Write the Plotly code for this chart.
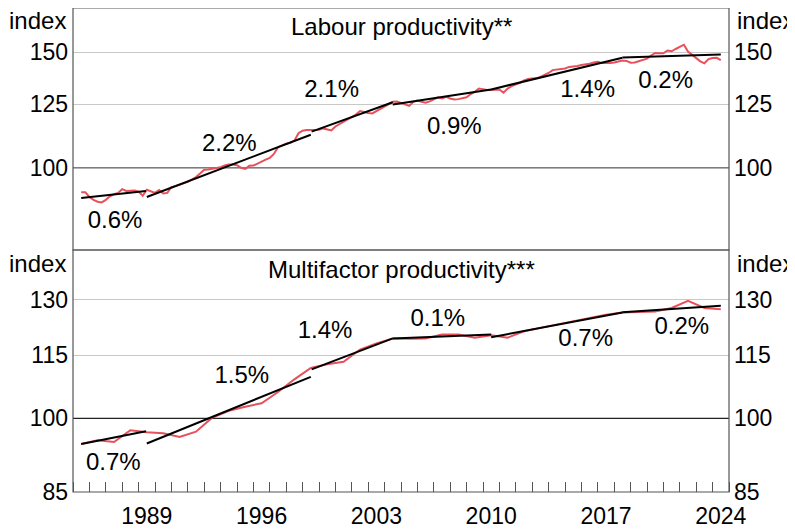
import math
import plotly.graph_objects as go

# ---------------- data ----------------
# Labour productivity** (quarterly index), first observation mid-1985
lp_first = 1985.5
lp_values = [
    91.8, 91.8, 90.3, 89.4, 88.8, 88.6, 89.4, 90.5, 91.2, 91.6,
    92.8, 92.2, 92.3, 92.4, 92.0, 90.7, 92.6, 92.2, 91.6, 92.5,
    91.4, 91.6, 93.5, 93.8, 94.2, 94.7, 95.2, 96.0, 96.8, 98.0,
    99.3, 99.4, 99.6, 99.8, 100.2, 100.8, 101.2, 101.2, 100.9, 100.0,
    99.6, 100.7, 100.8, 101.5, 102.3, 102.9, 103.5, 105.0, 107.5, 108.3,
    108.8, 109.2, 110.0, 112.9, 113.9, 114.2, 114.2, 114.0, 114.3, 114.8,
    114.5, 114.0, 115.6, 116.5, 117.6, 118.5, 119.3, 120.5, 122.0, 121.5,
    121.2, 121.0, 122.0, 123.0, 124.2, 125.3, 126.0, 126.1, 125.5,
    124.8, 124.2, 126.0, 126.6, 126.0, 125.6, 126.2, 127.0, 128.0, 127.5,
    128.2, 127.5, 127.0, 127.2, 127.5, 128.0, 129.5, 130.5, 132.0, 131.6,
    131.3, 131.3, 131.5, 131.6, 130.1, 132.0, 133.1, 133.8, 134.6, 135.8,
    136.5, 136.7, 136.8, 137.5, 138.4, 139.4, 140.8, 141.0, 141.2, 141.6,
    142.4, 142.5, 142.8, 143.3, 143.5, 144.0, 144.6, 145.0, 144.3, 144.2,
    144.4, 144.6, 145.3, 145.6, 145.4, 144.5, 144.6, 145.3, 145.6, 146.6,
    148.2, 149.5, 149.4, 149.3, 150.8, 150.4, 151.6, 152.6, 153.9, 150.3,
    148.6, 147.2, 145.2, 144.2, 146.3, 146.9, 147.0, 145.8,
]
lp_dates = [lp_first + 0.25 * i for i in range(len(lp_values))]

# Labour productivity trend segments: start year, end year, start value, end value, label
lp_seg_start = [1985.5, 1989.5, 1999.55, 2004.5, 2010.5, 2018.5]
lp_seg_end = [1989.45, 1999.5, 2004.5, 2010.5, 2018.5, 2024.5]
lp_seg_v0 = [90.0, 90.3, 113.5, 124.8, 131.6, 147.1]
lp_seg_v1 = [92.2, 112.3, 125.8, 131.6, 147.0, 148.7]
lp_labels = ["0.6%", "2.2%", "2.1%", "0.9%", "1.4%", "0.2%"]
lp_label_x = [1987.56, 1994.53, 2000.77, 2008.25, 2016.38, 2021.14]
lp_label_y = [82.6, 108.3, 130.9, 114.8, 130.9, 135.1]

# Multifactor productivity*** (annual index)
mfp_years = [1985.5 + i for i in range(40)]
mfp_values = [
    94.5, 95.3, 94.9, 97.4, 97.0, 96.75, 96.0, 97.1, 100.2, 101.7,
    102.6, 103.4, 106.0, 109.0, 111.8, 112.7, 113.3, 116.4, 118.0, 119.3,
    119.2, 119.3, 120.3, 120.3, 119.5, 120.1, 119.5, 121.2, 122.1, 123.0,
    123.9, 124.8, 125.7, 126.3, 126.4, 126.6, 127.6, 129.6, 127.6, 127.2,
]
mfp_seg_start = [1985.5, 1989.5, 1999.55, 2004.5, 2010.5, 2018.5]
mfp_seg_end = [1989.45, 1999.5, 2004.5, 2010.5, 2018.5, 2024.5]
mfp_seg_v0 = [94.5, 94.6, 111.4, 119.3, 119.6, 126.4]
mfp_seg_v1 = [97.2, 109.6, 119.3, 120.3, 126.3, 128.2]
mfp_labels = ["0.7%", "1.5%", "1.4%", "0.1%", "0.7%", "0.2%"]
mfp_label_x = [1987.46, 1995.29, 2000.37, 2007.24, 2016.26, 2022.12]
mfp_label_y = [90.4, 109.6, 121.0, 124.2, 118.8, 122.2]

x_tick_years = [1989, 1996, 2003, 2010, 2017, 2024]
lp_ticks = [100, 125, 150]
mfp_ticks = [85, 100, 115, 130]
lp_range = [75, 175]
mfp_range = [85, 145]
x_range = [1985, 2025]

# ---------------- style ----------------
FONT = "Liberation Sans, Arial, sans-serif"
FS_TICK = 23
FS_TEXT = 24
RED = "#E8505B"
FRAME = "#555555"
GRID = "#c8c8c8"


def seg_xy(s, e, v0, v1):
    xs, ys = [], []
    for a, b, c, d in zip(s, e, v0, v1):
        xs += [a, b, None]
        ys += [c, d, None]
    return xs, ys


fig = go.Figure()

# reference lines at 100
fig.add_trace(go.Scatter(x=x_range, y=[100, 100], mode="lines",
                         line=dict(color="#666666", width=1.2),
                         xaxis="x2", yaxis="y", hoverinfo="skip", showlegend=False))
fig.add_trace(go.Scatter(x=x_range, y=[100, 100], mode="lines",
                         line=dict(color="#222222", width=1.2),
                         xaxis="x", yaxis="y2", hoverinfo="skip", showlegend=False))

# top panel
fig.add_trace(go.Scatter(x=lp_dates, y=lp_values, mode="lines",
                         line=dict(color=RED, width=2),
                         xaxis="x2", yaxis="y", showlegend=False))
sx, sy = seg_xy(lp_seg_start, lp_seg_end, lp_seg_v0, lp_seg_v1)
fig.add_trace(go.Scatter(x=sx, y=sy, mode="lines", line=dict(color="black", width=2),
                         xaxis="x2", yaxis="y", showlegend=False, connectgaps=False))
fig.add_trace(go.Scatter(x=lp_label_x, y=lp_label_y, mode="text", text=lp_labels,
                         textfont=dict(family=FONT, size=FS_TEXT, color="black"),
                         textposition="middle center",
                         xaxis="x2", yaxis="y", showlegend=False, hoverinfo="skip"))

# bottom panel
fig.add_trace(go.Scatter(x=mfp_years, y=mfp_values, mode="lines",
                         line=dict(color=RED, width=2),
                         xaxis="x", yaxis="y2", showlegend=False))
sx, sy = seg_xy(mfp_seg_start, mfp_seg_end, mfp_seg_v0, mfp_seg_v1)
fig.add_trace(go.Scatter(x=sx, y=sy, mode="lines", line=dict(color="black", width=2),
                         xaxis="x", yaxis="y2", showlegend=False, connectgaps=False))
fig.add_trace(go.Scatter(x=mfp_label_x, y=mfp_label_y, mode="text", text=mfp_labels,
                         textfont=dict(family=FONT, size=FS_TEXT, color="black"),
                         textposition="middle center",
                         xaxis="x", yaxis="y2", showlegend=False, hoverinfo="skip"))

# invisible traces so the right-hand axes render
fig.add_trace(go.Scatter(x=[x_range[0]], y=[100], mode="markers", marker=dict(opacity=0),
                         xaxis="x2", yaxis="y3", showlegend=False, hoverinfo="skip"))
fig.add_trace(go.Scatter(x=[x_range[0]], y=[100], mode="markers", marker=dict(opacity=0),
                         xaxis="x", yaxis="y4", showlegend=False, hoverinfo="skip"))

lr = [math.log10(v) for v in lp_range]
mr = [math.log10(v) for v in mfp_range]
tickfont = dict(family=FONT, size=FS_TICK, color="black")

# the page body adds an 8px offset, so the figure is 8px smaller and the margins shifted
fig.update_layout(
    width=787, height=523, autosize=False,
    margin=dict(l=65, r=66, t=0, b=39),
    paper_bgcolor="white", plot_bgcolor="white",
    font=dict(family=FONT, size=FS_TEXT, color="black"),
    xaxis=dict(domain=[0, 1], anchor="y2", range=x_range,
               tickmode="array", tickvals=[y + 0.5 for y in x_tick_years],
               ticktext=[str(y) for y in x_tick_years], ticks="",
               tickfont=tickfont, showgrid=False, zeroline=False, showline=False,
               ticklabelstandoff=8,
               minor=dict(tickmode="array", tickvals=list(range(x_range[0], x_range[1] + 1)),
                          ticks="inside", ticklen=10, tickcolor=FRAME, tickwidth=1,
                          showgrid=False)),
    xaxis2=dict(domain=[0, 1], anchor="y", range=x_range, matches="x",
                showticklabels=False, ticks="", showgrid=False, zeroline=False, showline=False),
    yaxis=dict(domain=[0.5, 1], anchor="x2", type="log", range=lr,
               tickmode="array", tickvals=lp_ticks, ticktext=[str(v) for v in lp_ticks],
               ticks="", tickfont=tickfont, showgrid=True, gridcolor=GRID, gridwidth=1,
               zeroline=False, showline=False, ticklabelstandoff=4),
    yaxis2=dict(domain=[0, 0.5], anchor="x", type="log", range=mr,
                tickmode="array", tickvals=mfp_ticks, ticktext=[str(v) for v in mfp_ticks],
                ticks="", tickfont=tickfont, showgrid=True, gridcolor=GRID, gridwidth=1,
                zeroline=False, showline=False, ticklabelstandoff=4),
    yaxis3=dict(overlaying="y", anchor="x2", side="right", type="log", range=lr,
                tickmode="array", tickvals=lp_ticks, ticktext=[str(v) for v in lp_ticks],
                ticks="", tickfont=tickfont, showgrid=False, zeroline=False, showline=False,
                ticklabelstandoff=4),
    yaxis4=dict(overlaying="y2", anchor="x", side="right", type="log", range=mr,
                tickmode="array", tickvals=mfp_ticks, ticktext=[str(v) for v in mfp_ticks],
                ticks="", tickfont=tickfont, showgrid=False, zeroline=False, showline=False,
                ticklabelstandoff=4),
    shapes=[
        dict(type="rect", xref="paper", yref="paper", x0=0, x1=1, y0=0.5, y1=1,
             line=dict(color=FRAME, width=1.2), fillcolor="rgba(0,0,0,0)", layer="above"),
        dict(type="rect", xref="paper", yref="paper", x0=0, x1=1, y0=0, y1=0.5,
             line=dict(color=FRAME, width=1.2), fillcolor="rgba(0,0,0,0)", layer="above"),
    ],
    annotations=[
        dict(text="Labour productivity**", xref="paper", yref="paper", x=0.5, y=0.961,
             xanchor="center", yanchor="middle", showarrow=False, font=dict(size=FS_TEXT)),
        dict(text="Multifactor productivity***", xref="paper", yref="paper", x=0.5, y=0.460,
             xanchor="center", yanchor="middle", showarrow=False, font=dict(size=FS_TEXT)),
        dict(text="index", xref="paper", yref="paper", x=-0.0076, y=0.975,
             xanchor="right", yanchor="middle", showarrow=False, font=dict(size=FS_TEXT)),
        dict(text="index", xref="paper", yref="paper", x=1.0091, y=0.975,
             xanchor="left", yanchor="middle", showarrow=False, font=dict(size=FS_TEXT)),
        dict(text="index", xref="paper", yref="paper", x=-0.0076, y=0.4717,
             xanchor="right", yanchor="middle", showarrow=False, font=dict(size=FS_TEXT)),
        dict(text="index", xref="paper", yref="paper", x=1.0091, y=0.4717,
             xanchor="left", yanchor="middle", showarrow=False, font=dict(size=FS_TEXT)),
    ],
)

fig.write_html("out.html")
